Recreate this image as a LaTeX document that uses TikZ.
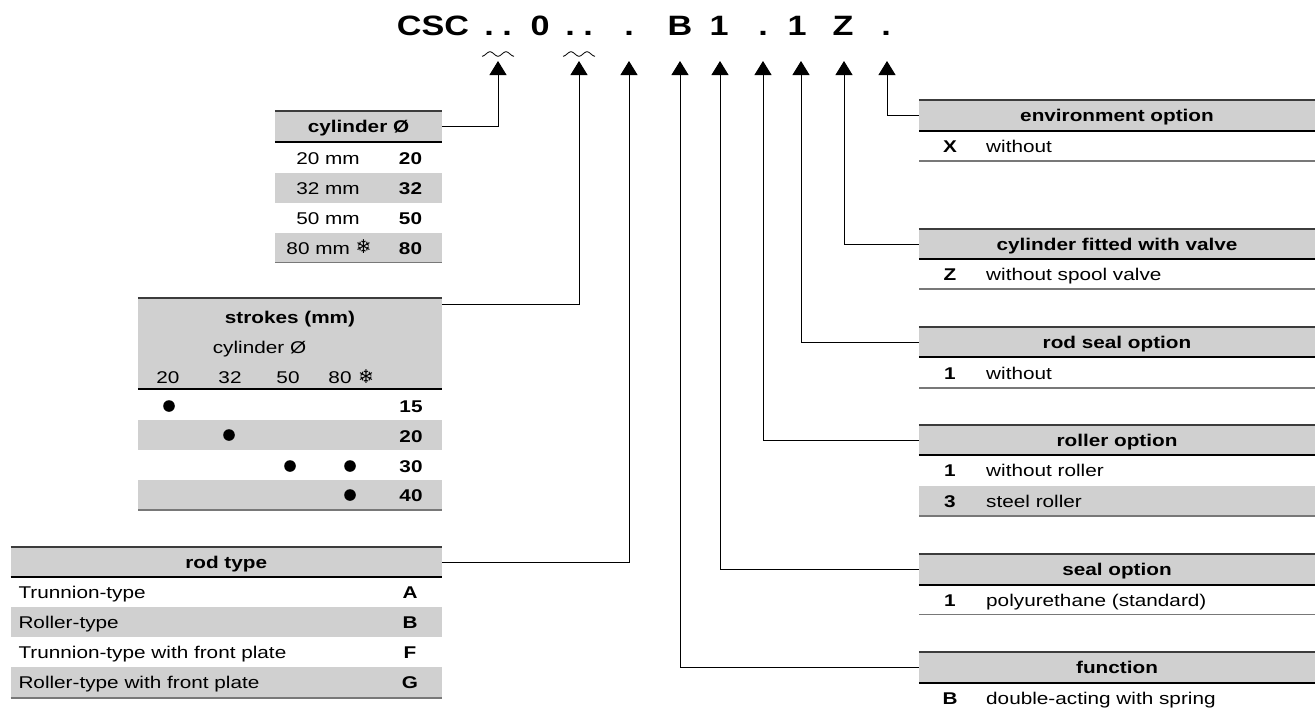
\documentclass[tikz,border=0pt]{standalone}
\usepackage{fontspec}
\setmainfont{Liberation Sans}[FakeStretch=1.22]
\newfontfamily\symfont{DejaVu Sans}
\usetikzlibrary{arrows.meta}
\definecolor{hdrgray}{RGB}{208,208,208}
\definecolor{topgray}{RGB}{60,60,60}
\definecolor{botgray}{RGB}{120,120,120}
\newcommand{\fsz}{\fontsize{17}{20}\selectfont}
\newcommand{\snow}{\raisebox{0.5pt}{\symfont\fontsize{19}{20}\selectfont ❄}}
\begin{document}
\begin{tikzpicture}[x=1pt,y=-1pt,
  conn/.style={line width=1pt,-{Triangle[length=14pt,width=17pt]}},
  hdrbox/.style={fill=hdrgray,inner sep=0pt,text height=12.2pt,text depth=0pt,font=\fsz\bfseries},
  toprule/.style={line width=1.6pt,topgray},
  midrule/.style={line width=2.2pt,black},
  botrule/.style={line width=1.2pt,botgray},
  shade/.style={fill=hdrgray},
  txt/.style={font=\fsz,inner sep=0pt,anchor=base},
  txtl/.style={font=\fsz,inner sep=0pt,anchor=base west},
  code/.style={font=\fsz\bfseries,inner sep=0pt,anchor=base},
  ttl/.style={font=\fontsize{28}{30}\selectfont\bfseries,inner sep=0pt,anchor=base}
]
\useasboundingbox (0,0) rectangle (1316,709);

% ---- title code ----
\node[ttl] (csc) at (433,36) {CSC};
\node[ttl] (d1) at (489,36) {.};
\node[ttl] (d2) at (507,36) {.};
\node[ttl] (zero) at (540,36) {0};
\node[ttl] (d3) at (570,36) {.};
\node[ttl] (d4) at (588,36) {.};
\node[ttl] (d5) at (629,36) {.};
\node[ttl] (cB) at (680,36) {B};
\node[ttl] (c1) at (719,36) {1};
\node[ttl] (d6) at (763,36) {.};
\node[ttl] (c1b) at (797,36) {1};
\node[ttl] (cZ) at (843,36) {Z};
\node[ttl] (d7) at (886,36) {.};

\draw[line width=0.8pt] plot[domain=0:32,samples=60,smooth] ({482+\x},{54+2.2*cos(\x*22.5)});
\draw[line width=0.8pt] plot[domain=0:32,samples=60,smooth] ({563+\x},{54+2.2*cos(\x*22.5)});

\coordinate (a1) at (498,61);
\coordinate (a2) at (579,61);
\coordinate (a3) at (629,61);
\coordinate (a4) at (680,61);
\coordinate (a5) at (720,61);
\coordinate (a6) at (763,61);
\coordinate (a7) at (801,61);
\coordinate (a8) at (844,61);
\coordinate (a9) at (887,61);

% ---- cylinder diameter ----
\node[hdrbox,minimum width=167pt,minimum height=30.5pt] (cylhdr) at (358.5,126.5) {cylinder Ø};
\fill[shade] (275,172.7) rectangle (442,202.5);
\fill[shade] (275,232.7) rectangle (442,262.7);
\draw[toprule] (cylhdr.north west) -- (cylhdr.north east);
\draw[midrule] (cylhdr.south west) -- (cylhdr.south east);
\draw[botrule] (275,262.7) -- (442,262.7);
\node[txt] (cyl1) at (328,164) {20 mm};
\node[code] (cyl1c) at (410.5,164) {20};
\node[txt] (cyl2) at (328,194) {32 mm};
\node[code] (cyl2c) at (410.5,194) {32};
\node[txt] (cyl3) at (328,224) {50 mm};
\node[code] (cyl3c) at (410.5,224) {50};
\node[txt] (cyl4) at (329,254) {80 mm \snow};
\node[code] (cyl4c) at (410.5,254) {80};
\draw[conn] (cylhdr.east) -| (a1);

% ---- strokes ----
\node[fill=hdrgray,inner sep=0pt,minimum width=304pt,minimum height=91pt] (strkhdr) at (290,343.5) {};
\fill[shade] (138,420) rectangle (442,450);
\fill[shade] (138,480) rectangle (442,510);
\draw[toprule] (strkhdr.north west) -- (strkhdr.north east);
\draw[midrule] (strkhdr.south west) -- (strkhdr.south east);
\draw[botrule] (138,510) -- (442,510);
\node[code] (strkt) at (290,323.5) {strokes (mm)};
\node[txt] (strks) at (259.5,353.5) {cylinder Ø};
\node[txt] (sc1) at (168,383.5) {20};
\node[txt] (sc2) at (230,383.5) {32};
\node[txt] (sc3) at (288,383.5) {50};
\node[txt] (sc4) at (340,383.5) {80};
\node[txt] (sc4s) at (366,383.5) {\snow};
\fill (169,406) circle (5.8pt);
\fill (229,435) circle (5.8pt);
\fill (290,466) circle (5.8pt);
\fill (350,466) circle (5.8pt);
\fill (350,495) circle (5.8pt);
\node[code] (s15) at (411,412.5) {15};
\node[code] (s20) at (411,442) {20};
\node[code] (s30) at (411,472.5) {30};
\node[code] (s40) at (411,501.5) {40};
\draw[conn] ([yshift=-7pt]strkhdr.north east) -| (a2);

% ---- rod type ----
\node[hdrbox,minimum width=431pt,minimum height=30pt] (rodhdr) at (226.2,562) {rod type};
\fill[shade] (10.7,607) rectangle (441.7,637);
\fill[shade] (10.7,667) rectangle (441.7,697.5);
\draw[toprule] (rodhdr.north west) -- (rodhdr.north east);
\draw[midrule] (rodhdr.south west) -- (rodhdr.south east);
\draw[botrule] (10.7,698) -- (441.7,698);
\node[txtl] (r1) at (18.3,598.5) {Trunnion-type};
\node[txtl] (r2) at (18.3,628.5) {Roller-type};
\node[txtl] (r3) at (18.3,658.5) {Trunnion-type with front plate};
\node[txtl] (r4) at (18.3,688.5) {Roller-type with front plate};
\node[code] (r1c) at (410,598.5) {A};
\node[code] (r2c) at (410,628.5) {B};
\node[code] (r3c) at (410,658.5) {F};
\node[code] (r4c) at (410,688.5) {G};
\draw[conn] (rodhdr.east) -| (a3);

% ---- environment option ----
\node[hdrbox,minimum width=396pt,minimum height=31pt] (envhdr) at (1117,115.5) {environment option};
\draw[toprule] (envhdr.north west) -- (envhdr.north east);
\draw[midrule] (envhdr.south west) -- (envhdr.south east);
\draw[botrule] (919,161) -- (1315,161);
\node[code] (envc) at (950,152.5) {X};
\node[txtl] (envt) at (986,152.5) {without};
\draw[conn] (envhdr.west) -| (a9);

% ---- cylinder fitted with valve ----
\node[hdrbox,minimum width=396pt,minimum height=30pt] (valhdr) at (1117,244) {cylinder fitted with valve};
\draw[toprule] (valhdr.north west) -- (valhdr.north east);
\draw[midrule] (valhdr.south west) -- (valhdr.south east);
\draw[botrule] (919,289) -- (1315,289);
\node[code] (valc) at (950,280.5) {Z};
\node[txtl] (valt) at (986,280.5) {without spool valve};
\draw[conn] (valhdr.west) -| (a8);

% ---- rod seal option ----
\node[hdrbox,minimum width=396pt,minimum height=30pt] (rshdr) at (1117,342) {rod seal option};
\draw[toprule] (rshdr.north west) -- (rshdr.north east);
\draw[midrule] (rshdr.south west) -- (rshdr.south east);
\draw[botrule] (919,388) -- (1315,388);
\node[code] (rsc) at (950,379) {1};
\node[txtl] (rst) at (986,379) {without};
\draw[conn] (rshdr.west) -| (a7);

% ---- roller option ----
\node[hdrbox,minimum width=396pt,minimum height=30pt] (rohdr) at (1117,440) {roller option};
\fill[shade] (919,485.5) rectangle (1315,516);
\draw[toprule] (rohdr.north west) -- (rohdr.north east);
\draw[midrule] (rohdr.south west) -- (rohdr.south east);
\draw[botrule] (919,516) -- (1315,516);
\node[code] (ro1c) at (950,476.5) {1};
\node[txtl] (ro1t) at (986,476.5) {without roller};
\node[code] (ro3c) at (950,507) {3};
\node[txtl] (ro3t) at (986,507) {steel roller};
\draw[conn] (rohdr.west) -| (a6);

% ---- seal option ----
\node[hdrbox,minimum width=396pt,minimum height=31pt] (sehdr) at (1117,569.5) {seal option};
\draw[toprule] (sehdr.north west) -- (sehdr.north east);
\draw[midrule] (sehdr.south west) -- (sehdr.south east);
\draw[botrule] (919,614.5) -- (1315,614.5);
\node[code] (sec) at (950,606.5) {1};
\node[txtl] (set) at (986,606.5) {polyurethane (standard)};
\draw[conn] (sehdr.west) -| (a5);

% ---- function ----
\node[hdrbox,minimum width=396pt,minimum height=31pt] (fnhdr) at (1117,667.5) {function};
\draw[toprule] (fnhdr.north west) -- (fnhdr.north east);
\draw[midrule] (fnhdr.south west) -- (fnhdr.south east);
\node[code] (fnc) at (950,704) {B};
\node[txtl] (fnt) at (986,704) {double-acting with spring};
\draw[conn] (fnhdr.west) -| (a4);
\end{tikzpicture}
\end{document}
